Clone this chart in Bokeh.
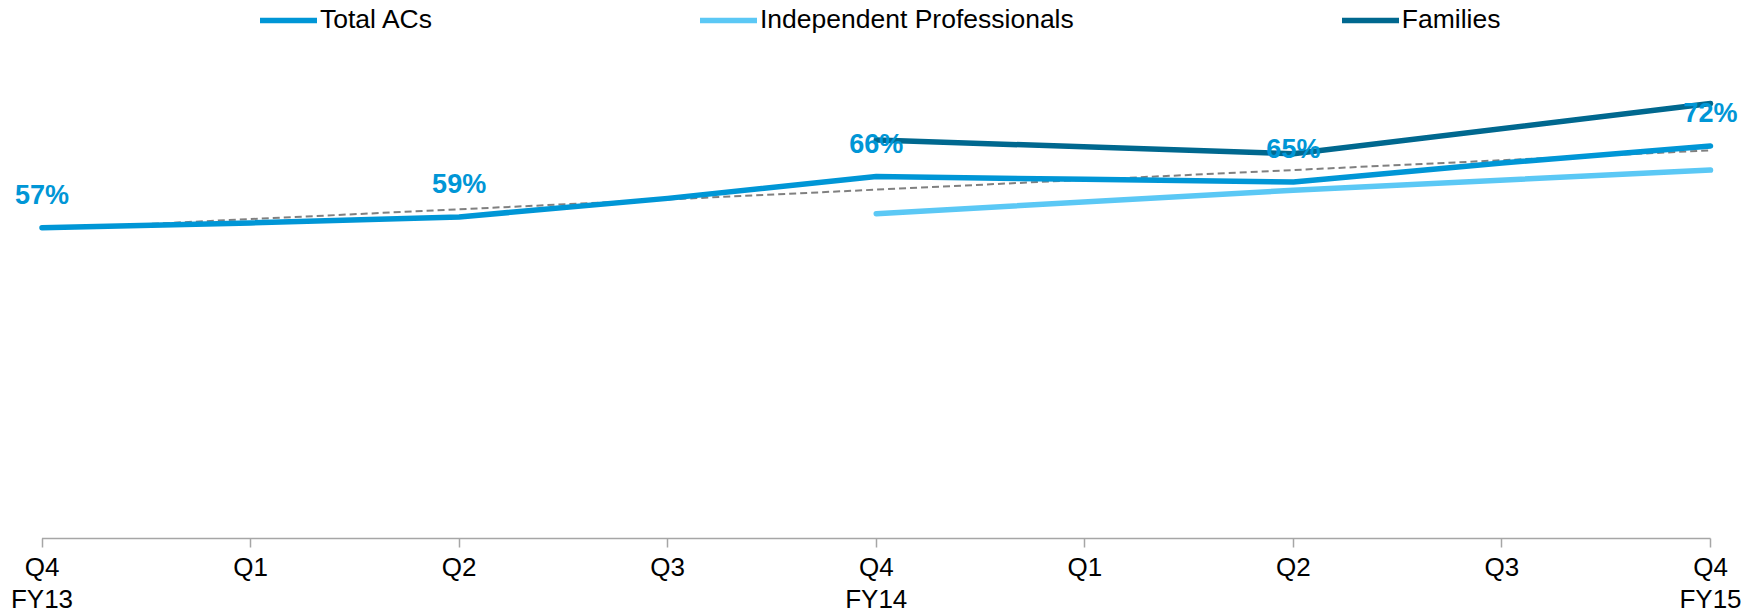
from bokeh.plotting import figure
from bokeh.models import (Range1d, FixedTicker, ColumnDataSource, LabelSet,
                          Legend, LegendItem)
from bokeh.core.properties import value
from bokeh.embed import file_html
from bokeh.resources import INLINE

# ---- data ----
quarter_labels = ["Q4\nFY13", "Q1", "Q2", "Q3", "Q4\nFY14", "Q1", "Q2", "Q3", "Q4\nFY15"]
quarter_pos = [0, 1, 2, 3, 4, 5, 6, 7, 8]

total_acs = [57.0, 57.9, 59.0, 62.4, 66.4, 65.9, 65.4, 68.9, 72.0]

indep_x = [4, 6, 8]
indep_prof = [59.6, 63.9, 67.6]

families_x = [4, 6, 8]
families = [73.1, 70.6, 79.8]

trend_x = [0, 8]
trend_vals = [56.8, 71.2]

label_x = [0, 2, 4, 6, 8]
label_y = [57.0, 59.0, 66.4, 65.4, 72.0]
label_text = ["57%", "59%", "66%", "65%", "72%"]

baseline_x = [0, 8]
baseline_y = [0, 0]

C_TOTAL = "#0096D6"
C_INDEP = "#5BC8F5"
C_FAM = "#00688F"
C_AXIS = "#A6A6A6"
FONT = "Liberation Sans"

p = figure(width=1761, height=616, output_backend="svg", toolbar_location=None,
           x_range=Range1d(-0.199, 8.2445), y_range=Range1d(-0.366, 98.7),
           y_axis_location=None,
           min_border_left=0, min_border_right=0,
           min_border_top=0, min_border_bottom=75)
p.outline_line_color = None
p.xgrid.visible = False
p.ygrid.visible = False
p.background_fill_color = "white"
p.border_fill_color = "white"

ax = p.xaxis[0]
ax.ticker = FixedTicker(ticks=quarter_pos)
ax.major_label_overrides = {i: s for i, s in zip(quarter_pos, quarter_labels)}
ax.axis_line_color = None
ax.major_tick_line_color = C_AXIS
ax.major_tick_line_width = 1.5
ax.major_tick_in = 2
ax.major_tick_out = 7
ax.minor_tick_line_color = None
ax.major_label_text_font = FONT
ax.major_label_text_font_size = "26px"
ax.major_label_text_line_height = 1.07
ax.major_label_text_color = "black"
ax.major_label_standoff = 4

p.line(baseline_x, baseline_y, line_color=C_AXIS, line_width=1.5)
r_trend = p.line(trend_x, trend_vals, line_color="#808080", line_width=2, line_dash="7 4")
r_indep = p.line(indep_x, indep_prof, line_color=C_INDEP, line_width=5.5,
                 line_join="round", line_cap="round")
r_fam = p.line(families_x, families, line_color=C_FAM, line_width=5.5,
               line_join="round", line_cap="round")
r_total = p.line(quarter_pos, total_acs, line_color=C_TOTAL, line_width=5.5,
                 line_join="round", line_cap="round")

src = ColumnDataSource(dict(x=label_x, y=label_y, t=label_text))
labels = LabelSet(x="x", y="y", text="t", source=src, text_align="center",
                  text_baseline="middle", y_offset=33, text_color=C_TOTAL,
                  text_font=value(FONT), text_font_size="27px",
                  text_font_style="bold")
p.add_layout(labels)

legend = Legend(items=[LegendItem(label="Total ACs", renderers=[r_total]),
                       LegendItem(label="Independent Professionals", renderers=[r_indep]),
                       LegendItem(label="Families", renderers=[r_fam])],
                orientation="horizontal", location=(260, 505),
                spacing=268, glyph_width=57, glyph_height=20, label_standoff=3,
                padding=0, margin=0, border_line_color=None,
                background_fill_alpha=0,
                label_text_font=FONT, label_text_font_size="26.5px",
                label_text_color="black")
p.add_layout(legend)

open("out.html", "w").write(file_html(p, INLINE))
